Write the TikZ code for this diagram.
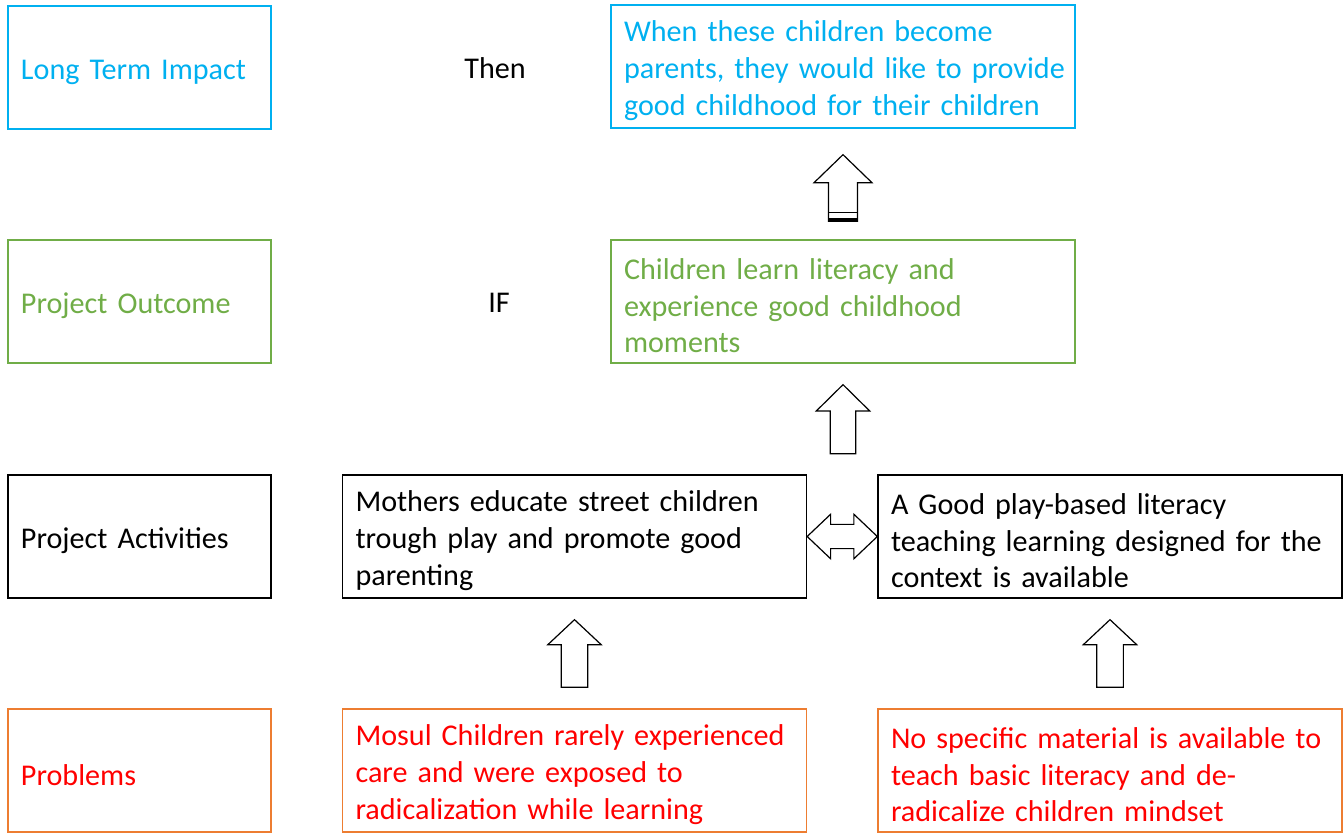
\documentclass[tikz,border=0pt]{standalone}
\usepackage{fontspec}
\setmainfont{Carlito}
\usetikzlibrary{calc}
\definecolor{cblue}{RGB}{0,176,240}
\definecolor{cgreen}{RGB}{112,173,71}
\definecolor{corange}{RGB}{237,125,49}
\definecolor{cred}{RGB}{255,0,0}
\newcommand\uparr[5]{%
  \draw[barrow] let \p1=(#1), \p2=(#2) in
    (\x1-#3,\y1) -- (\x1-#3,\y2-#5) -- (\x1-#4,\y2-#5) -- (\x2,\y2)
    -- (\x1+#4,\y2-#5) -- (\x1+#3,\y2-#5) -- (\x1+#3,\y1) -- cycle;}
\newcommand\tline[1]{\mbox{#1}}
\newcommand\fline[1]{\mbox{\rule{0pt}{22pt}#1}}
\begin{document}
\begin{tikzpicture}[x=0.75pt,y=-0.75pt,
  font=\fontsize{22.6}{27.5}\selectfont,
  box/.style={draw, line width=1pt, inner xsep=9.75pt, inner ysep=0pt, align=left, minimum height=92.25pt},
  lbox/.style={box, text width=177.75pt},
  rbox/.style={box, text width=328.5pt},
  barrow/.style={draw, line width=0.9pt, fill=white, line join=miter}]
\useasboundingbox (0,0) rectangle (1344,834);

\node[lbox, draw=cblue, text=cblue] (lti) at (139.5,67.5) {\fline{Long Term Impact}};
\node[lbox, draw=cgreen, text=cgreen] (lpo) at (139.5,301.5) {\fline{Project Outcome}};
\node[lbox] (lpa) at (139.5,536.5) {\fline{Project Activities}};
\node[lbox, draw=corange, text=cred] (lpr) at (139.5,770.5) {\fline{Problems}};

\node (then) at (495,68) {Then};
\node (if) at (499,303) {IF};

\node[rbox, draw=cblue, text=cblue] (imp) at (843,66.5) {\fline{When these children become}\\\tline{parents, they would like to provide}\\\tline{good childhood for their children}};
\node[rbox, draw=cgreen, text=cgreen] (out) at (843,301.5) {\fline{Children learn literacy and}\\\tline{experience good childhood}\\\tline{moments}};
\node[rbox] (act1) at (574.5,536.5) {\fline{Mothers educate street children}\\\tline{trough play and promote good}\\\tline{parenting}};
\node[rbox] (act2) at (1110,536.5) {\fline{A Good play-based literacy}\\\tline{teaching learning designed for the}\\\tline{context is available}};
\node[rbox, draw=corange, text=cred] (pr1) at (574.5,770.5) {\fline{Mosul Children rarely experienced}\\\tline{care and were exposed to}\\\tline{radicalization while learning}};
\node[rbox, draw=corange, text=cred] (pr2) at (1110,770.5) {\fline{No specific material is available to}\\\tline{teach basic literacy and de-}\\\tline{radicalize children mindset}};

% top arrow
\coordinate (tb) at ($(out.north)+(0,-18)$);
\coordinate (tt) at ($(imp.south)+(0,26)$);
\uparr{tb}{tt}{10.9pt}{21.7pt}{21pt}
\draw[line width=0.9pt] let \p1=(tb) in (\x1-10.9pt,\y1+6.75pt) -- (\x1+10.9pt,\y1+6.75pt);
\draw[line width=2.4pt] let \p1=(tb) in (\x1-10.9pt,\y1+1.2pt) -- (\x1+10.9pt,\y1+1.2pt);

% middle arrow
\coordinate (mb) at ($(out.south)+(0,90)$);
\coordinate (mt) at ($(out.south)+(0,21)$);
\uparr{mb}{mt}{9.5pt}{20pt}{19.7pt}

% bottom arrows
\coordinate (b1b) at ($(pr1.north)+(0,-21)$);
\coordinate (b1t) at ($(act1.south)+(0,21)$);
\uparr{b1b}{b1t}{10pt}{20pt}{18.75pt}
\coordinate (b2b) at ($(pr2.north)+(0,-21)$);
\coordinate (b2t) at ($(act2.south)+(0,21)$);
\uparr{b2b}{b2t}{10pt}{20pt}{18.75pt}

% double arrow
\draw[barrow] let \p1=(act1.east), \p2=(act2.west) in
  (\p1) -- (\x1+17.6pt,\y1+16.7pt) -- (\x1+17.6pt,\y1+9.1pt) -- (\x2-17.6pt,\y1+9.1pt)
  -- (\x2-17.6pt,\y1+16.7pt) -- (\p2) -- (\x2-17.6pt,\y1-16.7pt) -- (\x2-17.6pt,\y1-9.1pt)
  -- (\x1+17.6pt,\y1-9.1pt) -- (\x1+17.6pt,\y1-16.7pt) -- cycle;
\end{tikzpicture}
\end{document}
